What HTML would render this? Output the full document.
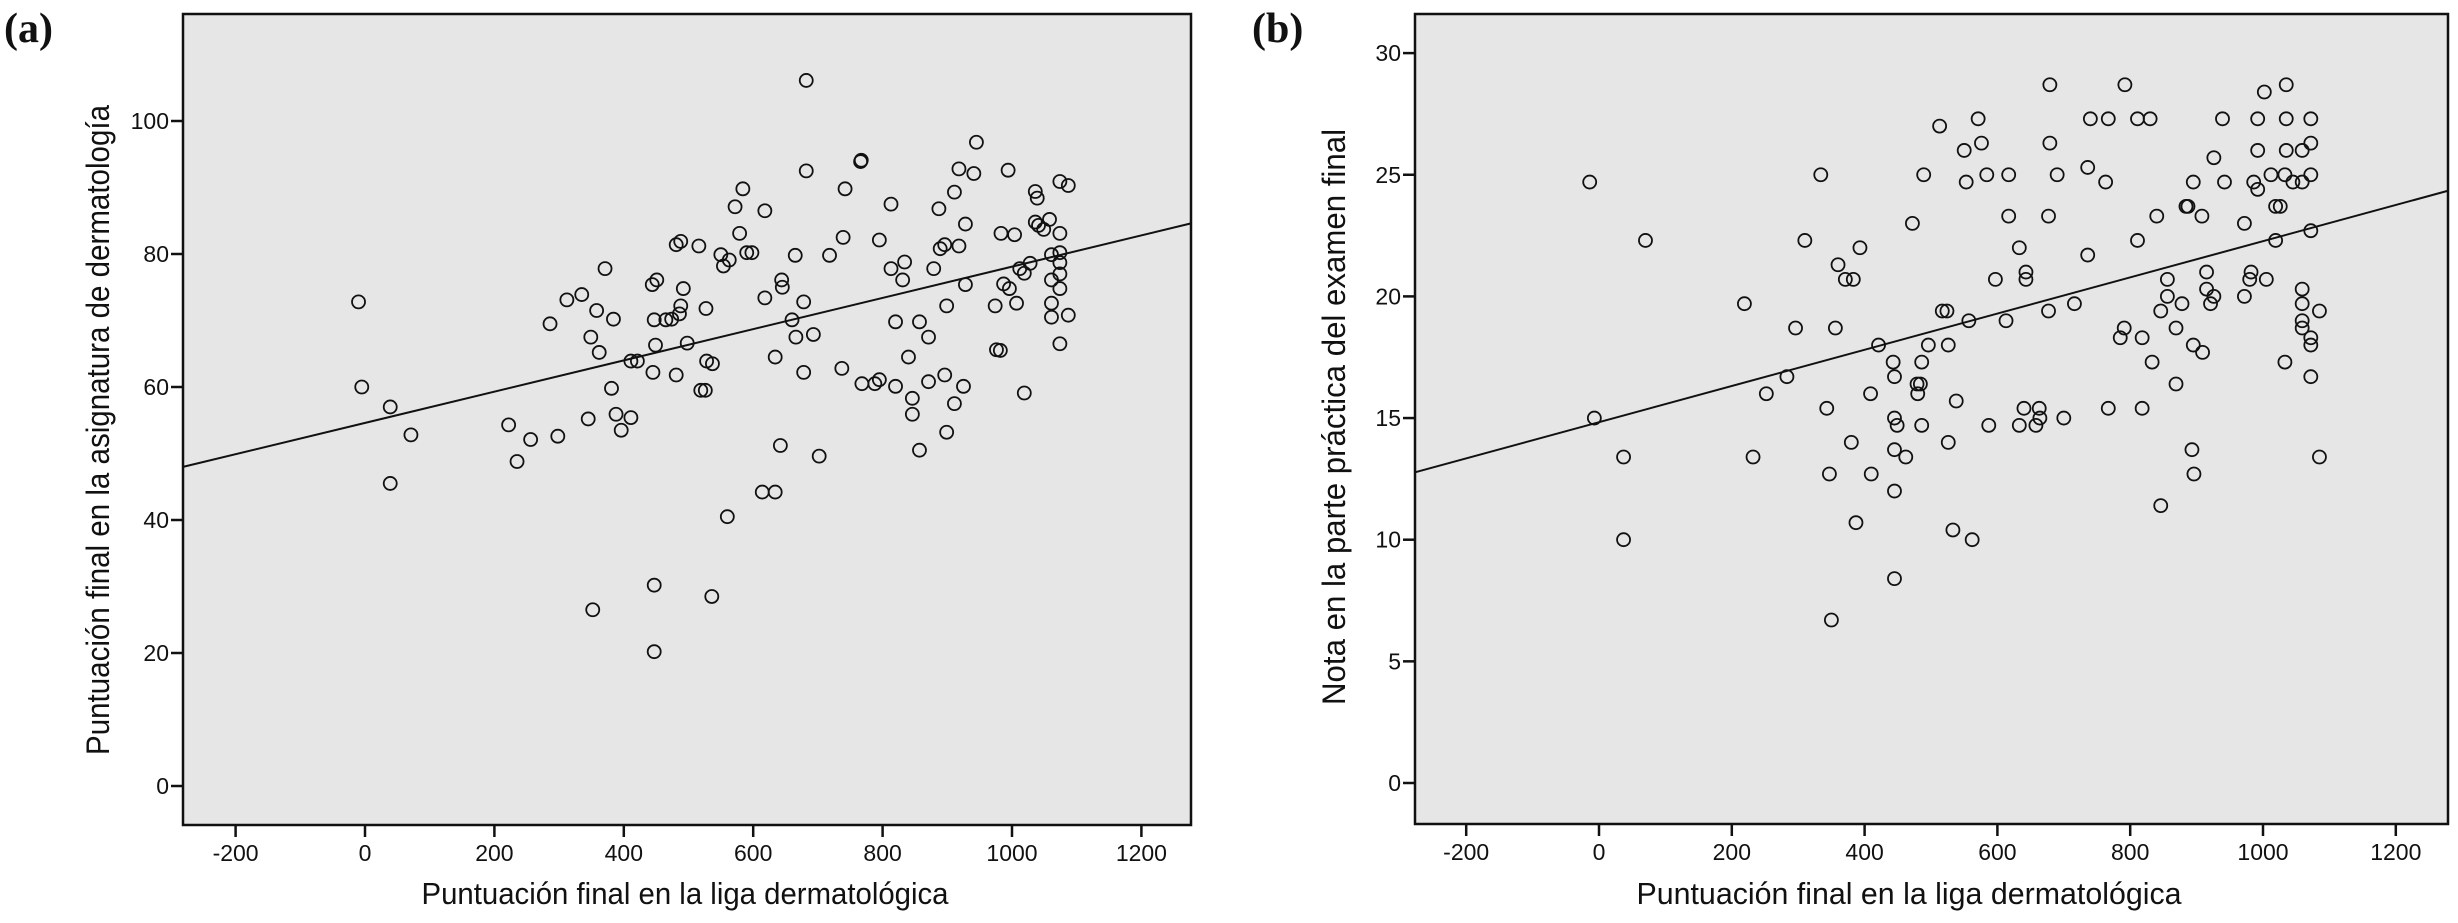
<!DOCTYPE html>
<html><head><meta charset="utf-8"><style>
html,body{margin:0;padding:0;background:#fff;}
svg{display:block;}
text{font-family:"Liberation Sans Narrow","Liberation Sans",sans-serif;fill:#111;}
</style></head><body>
<svg id="chart" width="2458" height="923" viewBox="0 0 2458 923" xmlns="http://www.w3.org/2000/svg">
<text x="4" y="42" style="font-family:'Liberation Serif',serif;font-weight:bold;font-size:42px">(a)</text>
<text x="1252" y="42" style="font-family:'Liberation Serif',serif;font-weight:bold;font-size:42px">(b)</text>
</svg>
<script>
const xTicks = [-200,0,200,400,600,800,1000,1200];
const yTicksA = [0,20,40,60,80,100];
const yTicksB = [0,5,10,15,20,25,30];
const fitA = [54.6, 0.0235];
const fitB = [14.83, 0.00744];
const ligaA = [-10,-5,39,39,71,222,235,256,286,298,312,335,349,345,352,358,362,371,384,381,388,396,411,411,421,444,451,447,449,445,447,447,465,474,481,488,486,488,481,492,498,516,519,526,527,528,537,536,550,554,563,560,572,579,584,590,598,618,618,614,634,634,644,645,642,660,666,665,678,678,682,682,693,702,718,737,739,742,766,767,768,788,795,795,813,813,820,820,831,834,840,846,846,857,857,871,871,879,887,889,896,899,896,899,911,911,918,918,925,928,928,941,945,974,976,982,983,987,994,996,1004,1007,1012,1019,1019,1028,1036,1036,1039,1041,1049,1058,1061,1061,1061,1061,1074,1074,1074,1074,1074,1074,1074,1087,1087];
const notaA = [72.8,60,57,45.5,52.8,54.3,48.8,52.1,69.5,52.6,73.1,73.9,67.5,55.2,26.5,71.5,65.2,77.8,70.2,59.8,55.9,53.5,55.4,63.9,63.9,75.4,76.1,70.1,66.3,62.2,30.2,20.2,70.1,70.2,81.4,81.9,71,72.2,61.8,74.8,66.6,81.2,59.5,59.5,71.8,63.9,63.5,28.5,79.9,78.2,79.1,40.5,87.1,83.1,89.8,80.2,80.2,86.5,73.4,44.2,44.2,64.5,76.1,75,51.2,70.1,67.5,79.8,72.8,62.2,106.1,92.5,67.9,49.6,79.8,62.8,82.5,89.8,93.9,94.1,60.5,60.5,61.1,82.1,87.5,77.8,69.8,60.1,76.1,78.8,64.5,58.3,55.9,69.8,50.5,67.5,60.8,77.8,86.8,80.8,81.4,72.2,61.8,53.2,89.3,57.5,92.8,81.2,60.1,84.5,75.4,92.1,96.8,72.2,65.6,65.5,83.1,75.5,92.6,74.8,82.9,72.6,77.8,59.1,77.1,78.6,89.4,84.8,88.4,84.3,83.7,85.2,79.9,76.1,72.6,70.5,90.9,83.1,80.2,78.7,77,74.8,66.5,90.3,70.8];
const ligaB = [-14,-7,37,37,70,219,232,252,283,296,310,334,343,347,350,356,360,371,383,380,387,393,409,410,421,443,445,445,445,445,445,449,462,472,479,480,484,486,486,489,496,513,517,524,526,526,533,538,550,553,557,562,571,576,584,587,597,613,617,617,633,633,640,643,643,658,663,664,677,677,679,679,690,700,716,736,736,740,763,767,767,785,791,792,811,811,818,818,830,833,840,846,846,856,856,869,869,878,884,887,895,895,893,896,908,909,915,915,921,926,926,939,942,972,972,980,982,986,992,992,992,1002,1005,1012,1019,1019,1026,1033,1033,1035,1035,1035,1045,1059,1059,1059,1059,1059,1059,1072,1072,1072,1072,1072,1072,1072,1085,1085];
const notaB = [24.7,15,13.4,10,22.3,19.7,13.4,16,16.7,18.7,22.3,25,15.4,12.7,6.7,18.7,21.3,20.7,20.7,14,10.7,22,16,12.7,18,17.3,16.7,15,13.7,12,8.4,14.7,13.4,23,16.4,16,16.4,17.3,14.7,25,18,27,19.4,19.4,18,14,10.4,15.7,26,24.7,19,10,27.3,26.3,25,14.7,20.7,19,25,23.3,22,14.7,15.4,21,20.7,14.7,15.4,15,23.3,19.4,26.3,28.7,25,15,19.7,21.7,25.3,27.3,24.7,27.3,15.4,18.3,18.7,28.7,22.3,27.3,18.3,15.4,27.3,17.3,23.3,19.4,11.4,20.7,20,18.7,16.4,19.7,23.7,23.7,24.7,18,13.7,12.7,23.3,17.7,21,20.3,19.7,20,25.7,27.3,24.7,23,20,20.7,21,24.7,24.4,27.3,26,28.4,20.7,25,22.3,23.7,23.7,25,17.3,28.7,27.3,26,24.7,24.7,26,20.3,19.7,19,18.7,27.3,26.3,25,22.7,18.3,18,16.7,19.4,13.4];

const NS='http://www.w3.org/2000/svg';
const svg=document.getElementById('chart');
function mk(tag,attrs,parent){const e=document.createElementNS(NS,tag);for(const k in attrs)e.setAttribute(k,attrs[k]);(parent||svg).appendChild(e);return e;}

function panel(cfg){
  const g=mk('g',{});
  
  
  const sx=v=>cfg.x0+v*cfg.kx;
  const sy=v=>cfg.y0-v*cfg.ky;
  const bg=mk('rect',{x:cfg.L,y:cfg.T,width:cfg.R-cfg.L,height:cfg.B-cfg.T,fill:'#e6e6e6',stroke:'none'},g);
  
  
  // regression line
  const vL=(cfg.L-cfg.x0)/cfg.kx, vR=(cfg.R-cfg.x0)/cfg.kx;
  const ln=mk('line',{x1:cfg.L,y1:sy(cfg.fit[0]+cfg.fit[1]*vL),x2:cfg.R,y2:sy(cfg.fit[0]+cfg.fit[1]*vR),stroke:'#111','stroke-width':2},g);
  
  
  for(let i=0;i<cfg.xs.length;i++){
    const c=mk('circle',{cx:sx(cfg.xs[i]),cy:sy(cfg.ys[i]),r:6.5,fill:'none',stroke:'#111','stroke-width':1.8},g);
    
    
  }
  const fr=mk('rect',{x:cfg.L,y:cfg.T,width:cfg.R-cfg.L,height:cfg.B-cfg.T,fill:'none',stroke:'#111','stroke-width':2.5},g);
  
  
  xTicks.forEach(t=>{
    const x=sx(t);
    const tk=mk('line',{x1:x,y1:cfg.B,x2:x,y2:cfg.B+12,stroke:'#111','stroke-width':2.5},g);
    
    
    const tx=mk('text',{x:x,y:cfg.B+36,'text-anchor':'middle','font-size':23},g);
    tx.textContent=t;
    
    
  });
  cfg.yt.forEach(t=>{
    const y=sy(t);
    const tk=mk('line',{x1:cfg.L-12,y1:y,x2:cfg.L,y2:y,stroke:'#111','stroke-width':2.5},g);
    
    
    const tx=mk('text',{x:cfg.L-14,y:y+8,'text-anchor':'end','font-size':23},g);
    tx.textContent=t;
    
    
  });
  const xt=mk('text',{x:cfg.xtX,y:904,'text-anchor':'middle','font-size':31,textLength:cfg.xtW,lengthAdjust:'spacingAndGlyphs'},g);
  xt.textContent=cfg.xtitle;
  
  
  const yt=mk('text',{x:0,y:0,'text-anchor':'middle','font-size':32,textLength:cfg.ytW,lengthAdjust:'spacingAndGlyphs',transform:`translate(${cfg.ytX},${cfg.ytY}) rotate(-90)`},g);
  yt.textContent=cfg.ytitle;
  
  
}
panel({id:'panel-a',L:183,R:1191,T:14,B:825,x0:365,kx:0.647,y0:786,ky:6.65,xs:ligaA,ys:notaA,fit:fitA,yt:yTicksA,
  xtitle:'Puntuación final en la liga dermatológica',xtX:685,xtW:527,
  ytitle:'Puntuación final en la asignatura de dermatología',ytX:109,ytY:430,ytW:650});
panel({id:'panel-b',L:1415,R:2448,T:14,B:824,x0:1599,kx:0.664,y0:783,ky:24.33,xs:ligaB,ys:notaB,fit:fitB,yt:yTicksB,
  xtitle:'Puntuación final en la liga dermatológica',xtX:1909,xtW:545,
  ytitle:'Nota en la parte práctica del examen final',ytX:1345,ytY:417,ytW:576});
</script>
</body></html>
